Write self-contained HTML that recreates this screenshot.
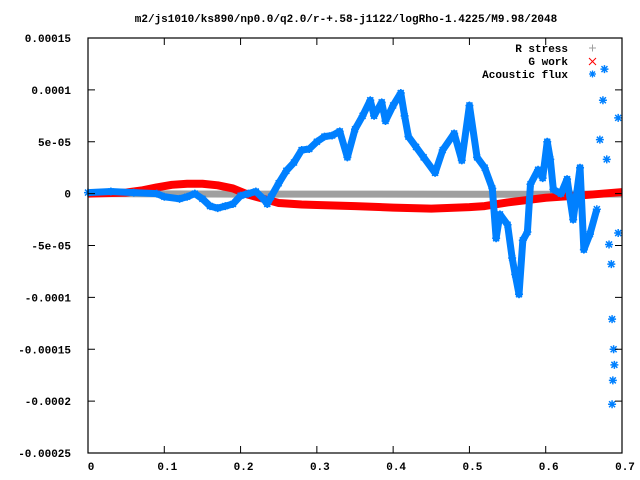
<!DOCTYPE html>
<html><head><meta charset="utf-8"><style>
body{margin:0;background:#fff;}
svg{display:block;font-family:"Liberation Mono","DejaVu Sans Mono",monospace;font-weight:bold;font-size:11px;}
</style></head><body>
<svg id="chart" width="640" height="480" viewBox="0 0 640 480" xmlns="http://www.w3.org/2000/svg">
<rect width="640" height="480" fill="#fff"/>
<text x="346" y="22" text-anchor="middle">m2/js1010/ks890/np0.0/q2.0/r-+.58-j1122/logRho-1.4225/M9.98/2048</text>
<g id="series"></g>
<g id="axes"></g>
<g>
<text x="568" y="52" text-anchor="end">R stress</text>
<text x="568" y="65" text-anchor="end">G work</text>
<text x="568" y="78" text-anchor="end">Acoustic flux</text>
<path d="M589,48h7M592.5,44.5v7" stroke="#a0a0a0" stroke-width="1"/>
<path d="M589,58l7,7M596,58l-7,7" stroke="#ff0000" stroke-width="1"/>
<path d="M589,74h7M592.5,70.5v7M590,71.5l5,5M595,71.5l-5,5" stroke="#0080ff" stroke-width="1.3"/>
</g>
</svg>
<script>
const xTicks=[0,0.1,0.2,0.3,0.4,0.5,0.6,0.7];
const xTickLabels=["0","0.1","0.2","0.3","0.4","0.5","0.6","0.7"];
const yTicks=[0.00015,0.0001,0.00005,0,-0.00005,-0.0001,-0.00015,-0.0002,-0.00025];
const yTickLabels=["0.00015","0.0001","5e-05","0","-5e-05","-0.0001","-0.00015","-0.0002","-0.00025"];
const rStressX=[0,0.1,0.2,0.25,0.35,0.5,0.6,0.7];
const rStressY=[0,-0.0000003,-0.0000005,-0.0000005,-0.0000005,-0.0000006,-0.0000006,-0.0000004];
const gWorkX=[0,0.05,0.07,0.09,0.11,0.13,0.15,0.17,0.19,0.2,0.21,0.22,0.23,0.25,0.28,0.3,0.35,0.4,0.45,0.5,0.52,0.55,0.6,0.65,0.7];
const gWorkY=[0,0.1,0.3,0.6,0.85,0.95,0.95,0.8,0.5,0.2,-0.1,-0.3,-0.5,-0.9,-1.05,-1.1,-1.2,-1.35,-1.45,-1.3,-1.2,-0.85,-0.4,-0.15,0.15];
const fluxX=[0,0.03,0.06,0.09,0.1,0.12,0.13,0.14,0.15,0.16,0.17,0.18,0.19,0.2,0.21,0.22,0.23,0.235,0.24,0.25,0.26,0.27,0.28,0.29,0.3,0.31,0.32,0.33,0.34,0.35,0.36,0.37,0.375,0.385,0.39,0.4,0.41,0.415,0.42,0.43,0.44,0.455,0.465,0.48,0.49,0.5,0.51,0.52,0.53,0.535,0.54,0.55,0.556,0.56,0.565,0.57,0.576,0.58,0.59,0.596,0.602,0.606,0.61,0.62,0.628,0.636,0.645,0.65,0.658,0.667,0.671,0.675,0.677,0.68,0.683,0.686,0.687,0.689,0.69,0.688,0.687,0.695,0.695];
const fluxY=[0.1,0.2,0.1,0,-0.3,-0.5,-0.3,0,-0.5,-1.2,-1.4,-1.2,-1.0,-0.2,0,0.2,-0.5,-1.0,-0.3,1.0,2.2,3.0,4.2,4.3,5.0,5.5,5.6,6.0,3.5,6.2,7.5,9.0,7.5,8.8,7.0,8.5,9.7,7.5,5.5,4.5,3.5,2.0,4.2,5.8,3.2,8.5,3.5,2.5,0.5,-4.3,-2.0,-3.0,-6.2,-7.8,-9.7,-4.5,-3.7,0.9,2.3,1.5,5.0,3.3,0.4,0,1.4,-2.5,2.5,-5.4,-3.9,-1.5,5.2,9.0,12.0,3.3,-4.9,-6.8,-12.1,-15.0,-16.5,-18.0,-20.3,7.3,-3.8];
const NS="http://www.w3.org/2000/svg";
const L=88,R=622,T=38,B=453;
function sx(v){return L+(v-0)/(0.7-0)*(R-L);}
function sy(v){return T+(0.00015-v)/(0.00015+0.00025)*(B-T);}
const series=document.getElementById('series');
const axes=document.getElementById('axes');
function mk(tag,attrs,parent){const e=document.createElementNS(NS,tag);for(const k in attrs)e.setAttribute(k,attrs[k]);parent.appendChild(e);return e;}
let d='';rStressX.forEach((x,i)=>{d+=(i?'L':'M')+sx(x)+','+sy(rStressY[i]);});
const rs=mk('path',{d:d,stroke:'#a0a0a0','stroke-width':7,fill:'none'},series);


d='';gWorkX.forEach((x,i)=>{d+=(i?'L':'M')+sx(x)+','+sy(gWorkY[i]*1e-5);});
const gw=mk('path',{d:d,stroke:'#ff0000','stroke-width':8,fill:'none','stroke-linejoin':'round'},series);


d='';let started=false;
fluxX.forEach((x,i)=>{if(x<=0.667){d+=(started?'L':'M')+sx(x)+','+sy(fluxY[i]*1e-5);started=true;}});
const fb=mk('path',{d:d,stroke:'#0080ff','stroke-width':7,fill:'none','stroke-linejoin':'round'},series);


fluxX.forEach((x,i)=>{
  const cx=sx(x),cy=sy(fluxY[i]*1e-5);
  const p=mk('path',{d:`M${cx-4},${cy}h8M${cx},${cy-4}v8M${cx-3},${cy-3}l6,6M${cx+3},${cy-3}l-6,6`,stroke:'#0080ff','stroke-width':1.5},series);
  
  
});
const fr=mk('rect',{x:L,y:T,width:R-L,height:B-T,fill:'none',stroke:'#000','stroke-width':1.2},axes);


yTicks.forEach((v,i)=>{
  const y=sy(v);
  const t=mk('path',{d:`M${L},${y}h7M${R},${y}h-7`,stroke:'#000','stroke-width':1},axes);
  
  
  const tx=mk('text',{x:71,y:y+4,'text-anchor':'end'},axes);tx.textContent=yTickLabels[i];
  
  
});
xTicks.forEach((v,i)=>{
  const x=sx(v);
  const t=mk('path',{d:`M${x},${B}v-7M${x},${T}v7`,stroke:'#000','stroke-width':1},axes);
  
  
  const tx=mk('text',{x:x+3,y:470,'text-anchor':'middle'},axes);tx.textContent=xTickLabels[i];
  
  
});
</script>
</body></html>
